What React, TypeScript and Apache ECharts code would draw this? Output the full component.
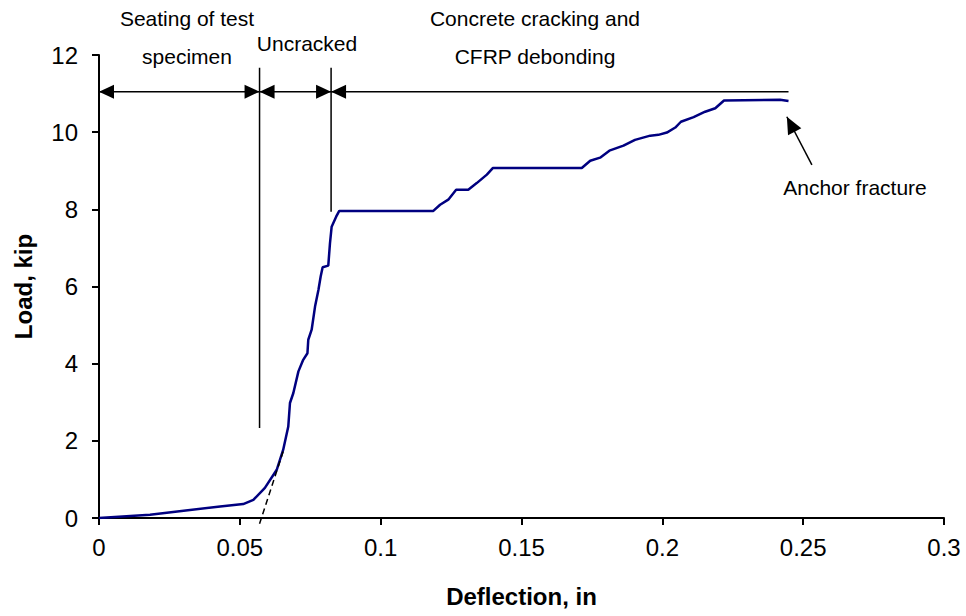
import React, { useEffect, useRef } from "react";
import * as echarts from "echarts";

// Load–deflection curve
const deflection = [
  0, 0.0181, 0.043, 0.0512, 0.0548, 0.0589, 0.0631, 0.0654, 0.0672, 0.0678,
  0.069, 0.0708, 0.0725, 0.074, 0.0743, 0.0755, 0.0767, 0.0779, 0.0787, 0.0794,
  0.0814, 0.082, 0.0826, 0.0842, 0.0853, 0.1187, 0.1211, 0.124, 0.1268, 0.1311,
  0.1341, 0.1377, 0.1398, 0.1714, 0.1744, 0.1779, 0.1812, 0.1862, 0.1903, 0.1957,
  0.1986, 0.2016, 0.2046, 0.2066, 0.2111, 0.2152, 0.2188, 0.2219, 0.2418, 0.2448,
];
const load = [
  0, 0.085, 0.3, 0.36, 0.47, 0.78, 1.25, 1.77, 2.37, 2.98,
  3.24, 3.8, 4.1, 4.27, 4.62, 4.88, 5.48, 5.91, 6.26, 6.5,
  6.54, 7.12, 7.55, 7.81, 7.96, 7.96, 8.12, 8.25, 8.51, 8.51,
  8.68, 8.9, 9.07, 9.07, 9.26, 9.34, 9.52, 9.65, 9.8, 9.91,
  9.93, 9.99, 10.12, 10.27, 10.39, 10.53, 10.62, 10.82, 10.84, 10.81,
];

const xTicks = [0, 0.05, 0.1, 0.15, 0.2, 0.25, 0.3];
const yTicks = [0, 2, 4, 6, 8, 10, 12];

// Annotation anchors in data units
const stageBounds = [0, 0.057, 0.0824, 0.2448]; // arrow segment limits
const stageArrowY = 11.05;
const stageLineTop = 11.67;
const stageLineBottoms = [2.33, 7.94];
const tangentLine = [
  [0.057, -0.15],
  [0.0655, 1.75],
];
const fractureArrow = {
  tail: [0.2531, 9.15],
  tip: [0.2442, 10.4],
};

const FONT = "'Liberation Sans', Arial, Helvetica, sans-serif";

export default function App() {
  const ref = useRef<HTMLDivElement>(null);

  useEffect(() => {
    if (!ref.current) return;
    const chart = echarts.init(ref.current, null, { renderer: "svg" });
    const fmt = (v: number) => String(parseFloat(v.toFixed(3)));
    chart.setOption({
      animation: false,
      backgroundColor: "#fff",
      grid: { left: 99, right: 22, top: 55, bottom: 98, containLabel: false },
      xAxis: {
        type: "value",
        min: xTicks[0],
        max: xTicks[xTicks.length - 1],
        interval: 0.05,
        name: "Deflection, in",
        nameLocation: "middle",
        nameGap: 66,
        nameTextStyle: { fontFamily: FONT, fontSize: 24, fontWeight: "bold", color: "#000" },
        axisLine: { show: true, lineStyle: { color: "#000", width: 2 } },
        axisTick: { show: true, length: 7, lineStyle: { color: "#000", width: 2 } },
        axisLabel: { fontFamily: FONT, fontSize: 24, color: "#000", margin: 17, formatter: fmt },
        splitLine: { show: false },
      },
      yAxis: {
        type: "value",
        min: yTicks[0],
        max: yTicks[yTicks.length - 1],
        interval: 2,
        name: "Load, kip",
        nameLocation: "middle",
        nameGap: 64,
        nameTextStyle: { fontFamily: FONT, fontSize: 24, fontWeight: "bold", color: "#000" },
        axisLine: { show: true, lineStyle: { color: "#000", width: 2 } },
        axisTick: { show: true, length: 7, lineStyle: { color: "#000", width: 2 } },
        axisLabel: { fontFamily: FONT, fontSize: 24, color: "#000", margin: 21, formatter: fmt },
        splitLine: { show: false },
      },
      series: [
        {
          type: "line",
          data: deflection.map((d, i) => [d, load[i]]),
          showSymbol: false,
          lineStyle: { color: "#000080", width: 2.5 },
          itemStyle: { color: "#000080" },
        },
      ],
    });

    const px = (x: number, y: number) => chart.convertToPixel({ gridIndex: 0 }, [x, y]) as number[];
    const black = "#000";
    const els: any[] = [];
    const line = (a: number[], b: number[], w = 1.5, dash?: number[]) =>
      els.push({
        type: "line",
        shape: { x1: a[0], y1: a[1], x2: b[0], y2: b[1] },
        style: { stroke: black, lineWidth: w, lineDash: dash },
        z: 100,
      });
    const head = (tip: number[], from: number[], len: number, half: number) => {
      const dx = tip[0] - from[0];
      const dy = tip[1] - from[1];
      const n = Math.hypot(dx, dy) || 1;
      const ux = dx / n;
      const uy = dy / n;
      const bx = tip[0] - ux * len;
      const by = tip[1] - uy * len;
      els.push({
        type: "polygon",
        shape: {
          points: [
            [tip[0], tip[1]],
            [bx - uy * half, by + ux * half],
            [bx + uy * half, by - ux * half],
          ],
        },
        style: { fill: black },
        z: 101,
      });
    };

    // stage arrows
    const ys = stageArrowY;
    const p0 = px(stageBounds[0], ys);
    const p1 = px(stageBounds[1], ys);
    const p2 = px(stageBounds[2], ys);
    const p3 = px(stageBounds[3], ys);
    line(p0, p3, 1.5);
    head(p0, p1, 15, 7);
    head(p1, p0, 15, 7);
    head(p1, p2, 15, 7);
    head(p2, p1, 15, 7);
    head(p2, p3, 15, 7);
    // vertical stage boundaries
    line(px(stageBounds[1], stageLineTop), px(stageBounds[1], stageLineBottoms[0]), 1.5);
    line(px(stageBounds[2], stageLineTop), px(stageBounds[2], stageLineBottoms[1]), 1.5);
    // tangent dashed line
    line(px(tangentLine[0][0], tangentLine[0][1]), px(tangentLine[1][0], tangentLine[1][1]), 1.5, [6, 4]);
    // fracture pointer
    const ft = px(fractureArrow.tip[0], fractureArrow.tip[1]);
    const fb = px(fractureArrow.tail[0], fractureArrow.tail[1]);
    line(fb, ft, 1.5);
    head(ft, fb, 17, 7.5);

    const text = (t: string, x: number, y: number) =>
      els.push({
        type: "text",
        x,
        y,
        style: {
          text: t,
          fontFamily: FONT,
          fontSize: 21,
          fill: black,
          textAlign: "center",
          textVerticalAlign: "middle",
        },
        z: 102,
      });
    text("Seating of test", 187, 18);
    text("specimen", 187, 56);
    text("Uncracked", 307, 43);
    text("Concrete cracking and", 535, 18);
    text("CFRP debonding", 535, 56);
    text("Anchor fracture", 855, 187);

    chart.setOption({ graphic: els });
    return () => chart.dispose();
  }, []);

  return (
    <div
      ref={ref}
      style={{ position: "absolute", left: 0, top: 0, width: 966, height: 616 }}
    />
  );
}
